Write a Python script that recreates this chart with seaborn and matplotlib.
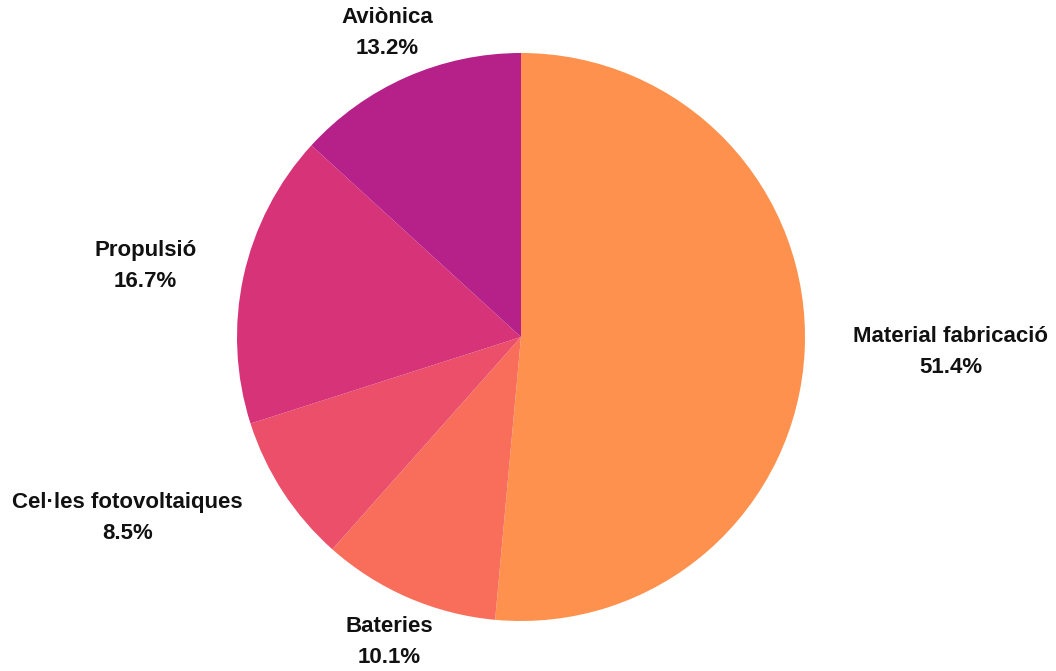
import numpy as np
import matplotlib
matplotlib.use("Agg")
import matplotlib.pyplot as plt
import seaborn as sns

categories = ["Material fabricació", "Bateries", "Cel·les fotovoltaiques", "Propulsió", "Aviònica"]
shares = [51.4, 10.1, 8.5, 16.7, 13.2]
colors = ["#FE914D", "#F86E5B", "#EC4F6A", "#D73378", "#B52089"]

sns.set_theme(style="white")
plt.rcParams["font.family"] = ["Liberation Sans", "DejaVu Sans"]

W, H = 1056, 671
fig = plt.figure(figsize=(W / 100, H / 100), dpi=100)
ax = fig.add_axes([0, 0, 1, 1])

R_px = 284.0
cx, cy = 521.0, 337.0

wedges, _ = ax.pie(shares, colors=colors, startangle=90, counterclock=False,
                   radius=1.0, wedgeprops=dict(linewidth=0))

ax.set_xlim(-cx / R_px, (W - cx) / R_px)
ax.set_ylim(-(H - cy) / R_px, cy / R_px)
ax.set_aspect("equal", adjustable="box")
ax.axis("off")

label_r = 1.17
for w, name, val in zip(wedges, categories, shares):
    th = np.deg2rad((w.theta1 + w.theta2) / 2)
    c, s = np.cos(th), np.sin(th)
    x, y = label_r * c, label_r * s
    if c > 0.5:
        ha = "left"
    elif c < -0.5:
        ha = "right"
    else:
        ha = "center"
    ax.text(x, y, f"{name}\n{val:.1f}%", ha=ha, va="center", multialignment="center",
            fontsize=16, fontweight="bold", color="#111111", linespacing=1.6)

fig.savefig("out.png", dpi=100, facecolor="white")
